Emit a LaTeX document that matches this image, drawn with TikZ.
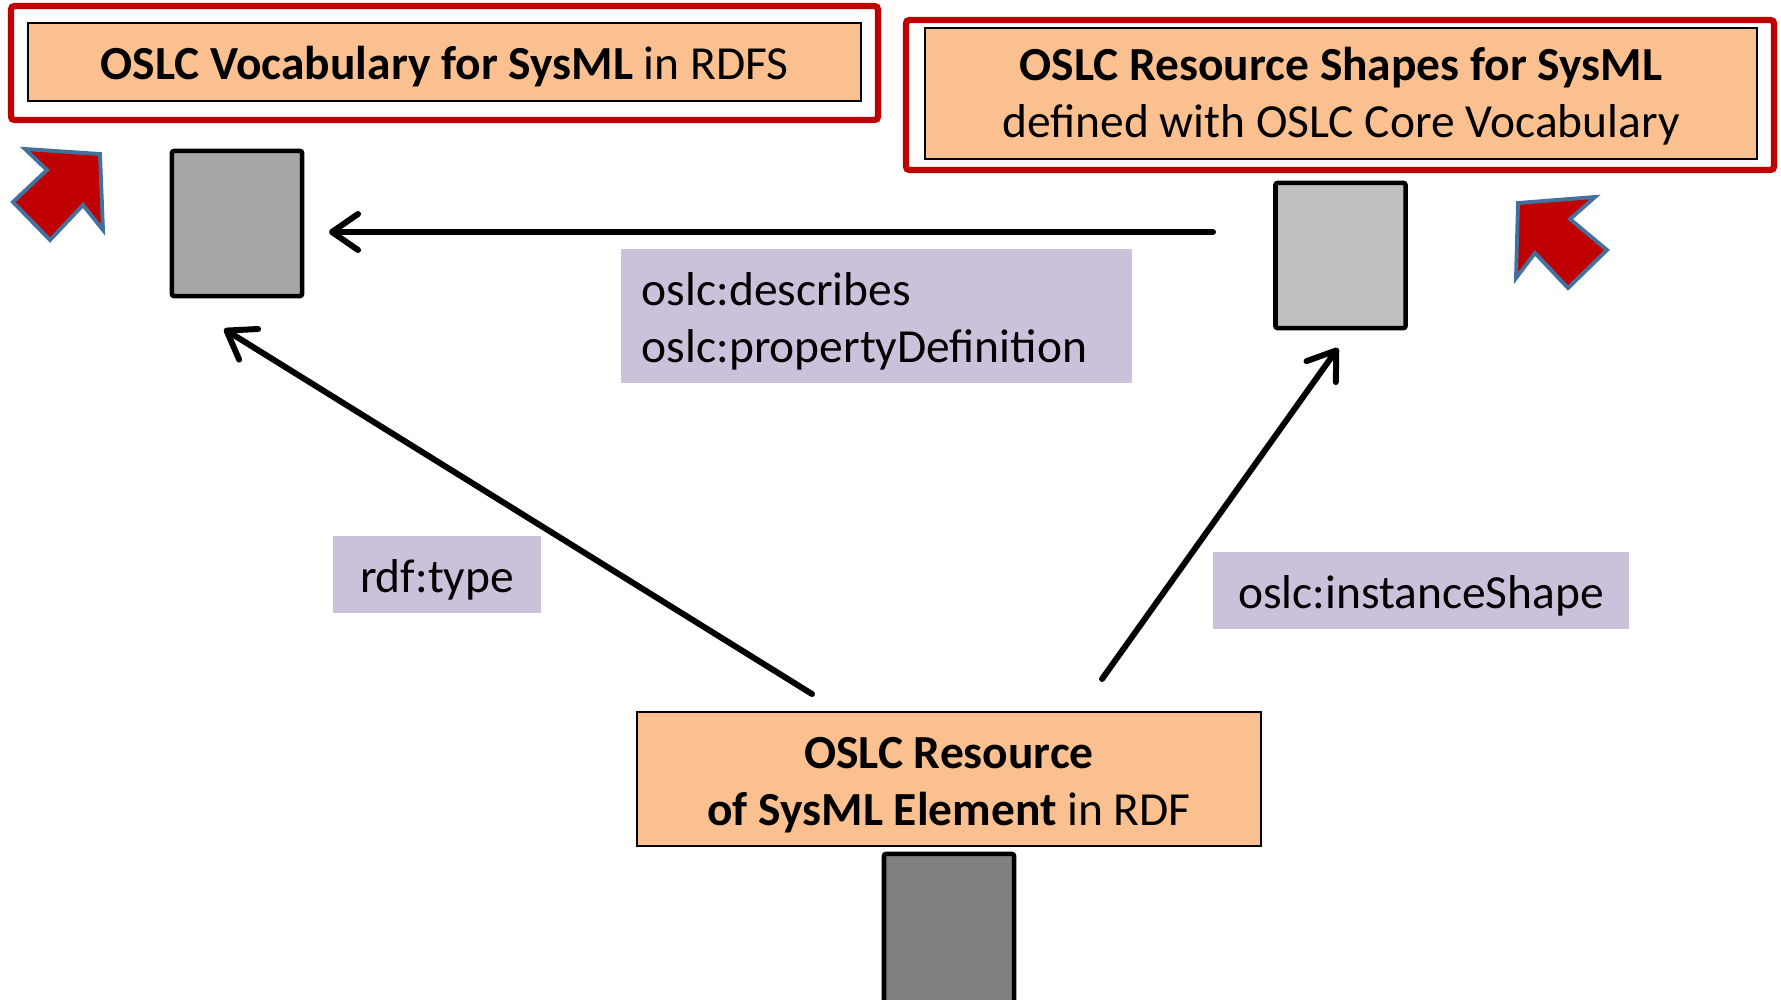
\documentclass[tikz,border=0pt]{standalone}
\usepackage{fontspec}
\setmainfont{Carlito}
\usepackage{xcolor}
\usepackage{tikz}
\usetikzlibrary{arrows.meta,positioning}

\definecolor{boxorange}{HTML}{FAC090}
\definecolor{labelpurple}{HTML}{CCC1DA}
\definecolor{framered}{HTML}{C00000}
\definecolor{arrowblue}{HTML}{41719C}

\begin{document}
\begin{tikzpicture}[x=0.01cm,y=-0.01cm,
    font=\fontsize{13.5}{16.2}\selectfont,
    orangebox/.style={draw=black,line width=0.5pt,fill=boxorange,align=flush center,inner sep=0pt,text height=12.2pt},
    propbox/.style={fill=labelpurple,inner sep=0pt,text height=12.2pt},
    resbox/.style={draw=black,line width=1.3pt,rounded corners=0.6pt,minimum width=1.3cm,minimum height=1.45cm,inner sep=0pt},
    redframe/.style={draw=framered,line width=1.8pt,rounded corners=1pt},
    relarrow/.style={line width=1.7pt,line cap=round,-{Straight Barb[length=2.6mm,width=3.6mm,round]}},
    bigarrow/.style={fill=framered,draw=arrowblue,line width=1.1pt,line join=miter}]
    % vocabulary, shapes and resource
    \useasboundingbox (0,0) rectangle (1781,1000);

    \draw[redframe] (11,6) rectangle (878,120);
    \draw[redframe] (906,20) rectangle (1774,170);

    \node[orangebox,minimum width=8.33cm,minimum height=0.78cm] (vocab) at (444.5,62)
        {\textbf{OSLC Vocabulary for SysML} in RDFS};
    \node[orangebox,minimum width=8.32cm,minimum height=1.31cm,text width=8cm,text height=10.9pt] (shapes) at (1341,93.5)
        {\textbf{OSLC Resource Shapes for SysML}\\defined with OSLC Core Vocabulary};
    \node[orangebox,minimum width=6.24cm,minimum height=1.34cm,text width=6cm] (resource) at (949,779)
        {\textbf{OSLC Resource}\\\textbf{of SysML Element} in RDF};

    \node[resbox,fill=black!35] (vocabsq) at (237,223.5) {};
    \node[resbox,fill=black!25] (shapesq) at (1340.5,255.5) {};
    \node[resbox,fill=black!50,minimum height=1.52cm] (resourcesq) at (949,930) {};

    \node[propbox,minimum width=5.11cm,minimum height=1.34cm,text width=4.69cm,align=left] (describes) at (876.5,316)
        {oslc:describes\\oslc:propertyDefinition};
    \node[propbox,minimum width=2.08cm,minimum height=0.77cm] (type) at (437,574.5) {rdf:type};
    \node[propbox,minimum width=4.16cm,minimum height=0.77cm] (instshape) at (1421,590.5) {oslc:instanceShape};

    \coordinate (describesfrom) at (1213,232);
    \coordinate (describesto) at (329,232);
    \coordinate (typefrom) at (812,694);
    \coordinate (typeto) at (224,329);
    \coordinate (instfrom) at (1102,679);
    \coordinate (instto) at (1338,348);

    \draw[relarrow] (describesfrom) -- (describesto);
    \draw[relarrow] (typefrom) -- (typeto);
    \draw[relarrow] (instfrom) -- (instto);

    \draw[bigarrow] (25,149) -- (100,154) -- (103,230) -- (83,205) -- (50,240) -- (13,202) -- (47,170) -- cycle;
    \draw[bigarrow] (1518,203) -- (1595,197) -- (1570,219) -- (1607,250) -- (1568,288) -- (1535,253) -- (1516,278) -- cycle;
\end{tikzpicture}
\end{document}
